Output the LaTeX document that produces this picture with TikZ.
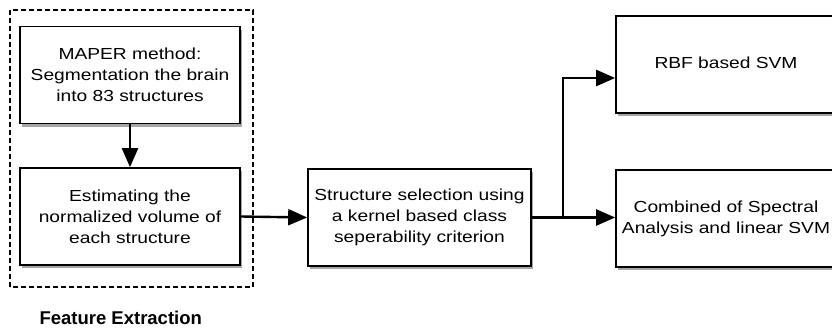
\documentclass[tikz,border=0pt]{standalone}
\usepackage{fontspec}
\setmainfont{Liberation Sans}
\newfontfamily\boxfont[FakeStretch=1.2]{Liberation Sans}
\usetikzlibrary{arrows.meta,shadows,calc}
\begin{document}
\begin{tikzpicture}[x=1pt,y=1pt,
  box/.style={draw=black,line width=1.7pt,fill=white,rectangle,minimum width=220pt,minimum height=97pt,inner sep=0pt,align=center,font=\boxfont\fontsize{16}{21}\selectfont,
    drop shadow={shadow xshift=2pt,shadow yshift=-3pt,opacity=0.35,fill=black}},
  conn/.style={line width=2.4pt,-{Triangle[length=19pt,width=16pt]}},
  plain/.style={line width=2.4pt}]
\clip (0,0) rectangle (832,333);
\useasboundingbox (0,0) rectangle (832,333);
\node[box] (A) at (130,258) {MAPER method:\\Segmentation the brain\\into 83 structures};
\node[box] (B) at (130,116.5) {Estimating the\\normalized volume of\\each structure};
\node[box,minimum width=223pt] (C) at (419.5,115.5) {Structure selection using\\a kernel based class\\seperability criterion};
\node[box] (D) at (726,268.5) {\raisebox{4pt}{RBF based SVM}};
\node[box] (E) at (726,114.5) {Combined of Spectral\\Analysis and linear SVM};
\draw[dashed,line width=1.3pt,dash pattern=on 5pt off 3pt] (10,46) rectangle (253,323);
\node[anchor=west,font=\bfseries\fontsize{18.5}{21}\selectfont] (FE) at (36,15) {Feature Extraction};
\coordinate (J) at (563,115.5);
\draw[conn] (A.south) -- (B.north);
\draw[conn] (B.east) -- (C.west);
\draw[plain] (C.east) -- (J);
\draw[conn] (J) |- ($(D.west)+(0,-13.5)$);
\draw[conn] (J) -- (E.west |- J);
\end{tikzpicture}
\end{document}
